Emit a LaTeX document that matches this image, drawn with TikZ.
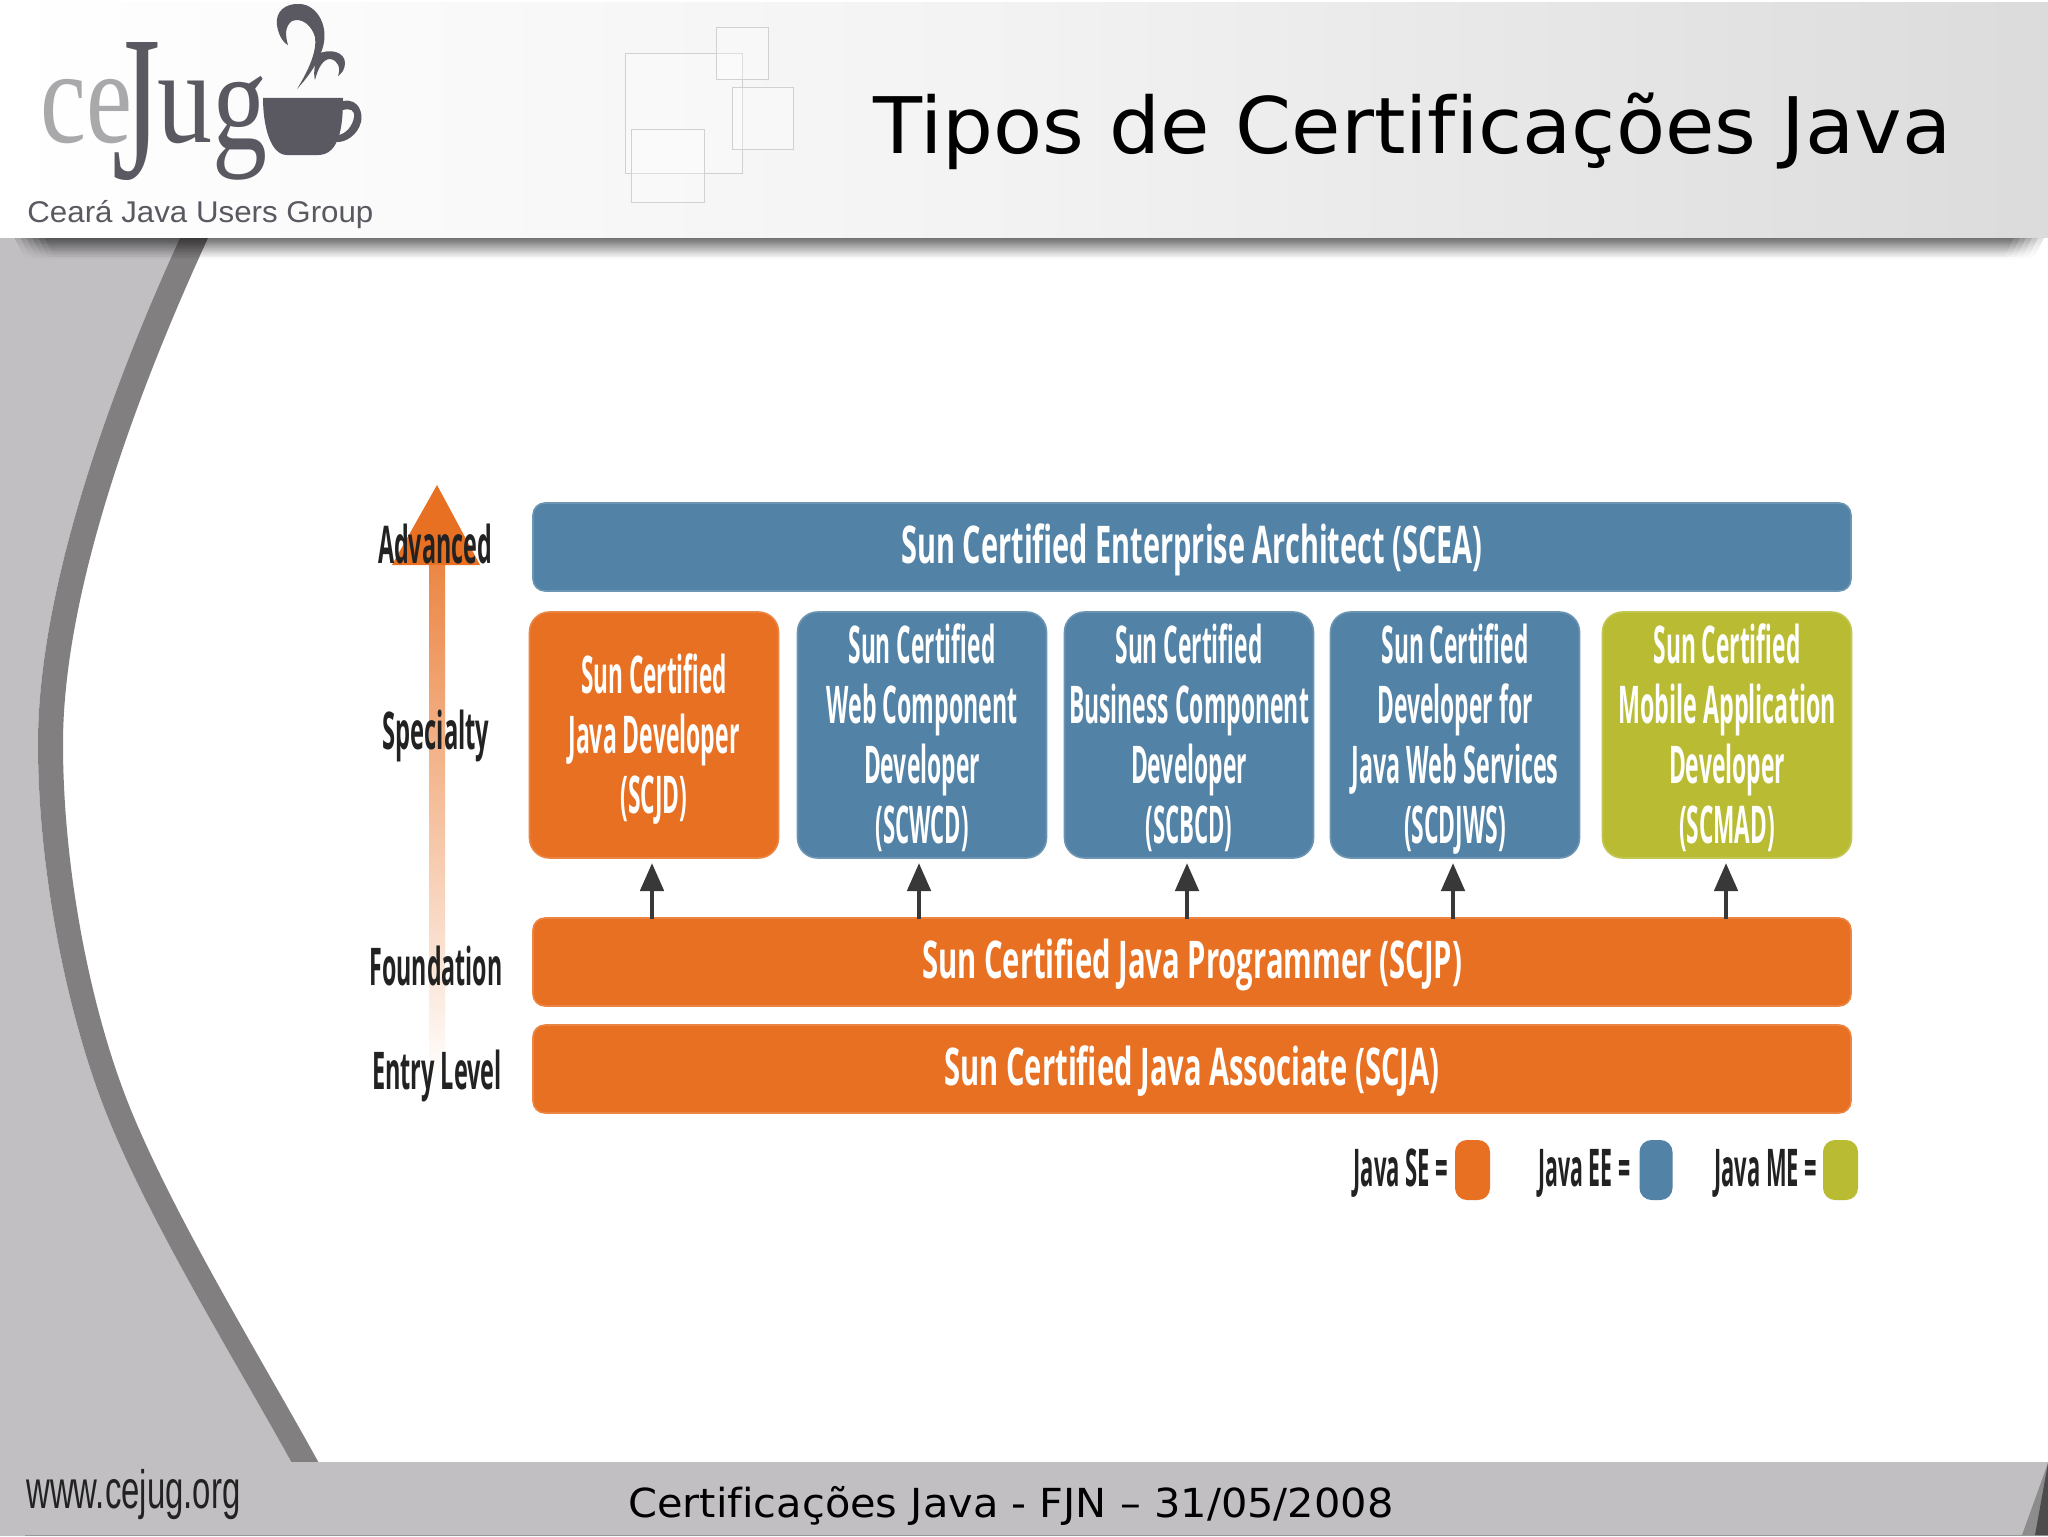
\documentclass[tikz,border=0pt]{standalone}
\usepackage{graphicx}
\usepackage{fontspec}
\usetikzlibrary{arrows.meta}
\setmainfont{Open Sans}
\newfontfamily\djv[Ligatures=NoCommon]{DejaVu Sans}
\newfontfamily\lbs{Liberation Sans}
\newfontfamily\lbr{Liberation Serif}
\newlength\pxu \setlength\pxu{0.5pt}
% width in px, size in pt, text
\newcommand\fitw[3]{\resizebox{#1\pxu}{\height}{\fontsize{#2}{#2}\selectfont #3}}
\newcommand\wl[2]{\smash{\fitw{#1}{26}{\bfseries #2}}}
\newcommand\firstl{\rule{0pt}{18pt}}
\newcommand\onel{\rule[-2pt]{0pt}{20pt}}
\definecolor{orangeB}{HTML}{E87022}
\definecolor{blueB}{HTML}{5282A6}
\definecolor{greenB}{HTML}{B9BC33}
\definecolor{sideG}{HTML}{C1BFC2}
\definecolor{bandG}{HTML}{827F81}
\definecolor{logoD}{HTML}{5A5961}
\definecolor{logoL}{HTML}{A9A9AB}
\definecolor{textD}{HTML}{222222}
\tikzset{
  certbox/.style={inner sep=0pt,outer sep=0pt,align=center,text=white,
    font=\fontsize{26}{30}\selectfont},
  wide/.style={certbox,rounded corners=6pt,minimum width=659pt,minimum height=44pt},
  spec/.style={certbox,rounded corners=10pt,minimum width=124.5pt,minimum height=123pt},
  orangeF/.style={fill=orangeB,draw=orangeB!85!white,line width=.8pt},
  blueF/.style={fill=blueB,draw=blueB!85!white,line width=.8pt},
  greenF/.style={fill=greenB,draw=greenB!85!white,line width=.8pt},
  levlabel/.style={inner sep=0pt,anchor=base,text=textD},
  legendlabel/.style={inner sep=0pt,anchor=base west,text=textD},
  swatch/.style={inner sep=0pt,minimum height=30pt,rounded corners=6pt},
  up/.style={draw=black!78,line width=2.4pt,shorten >=2.5pt,
    -{Triangle[length=14pt,width=11.5pt]}},
  note/.style={inner sep=0pt,anchor=base west},
  paneline/.style={draw=black!18,line width=.5pt,fill=white,fill opacity=.3}
}
\begin{document}
\begin{tikzpicture}[x=0.5pt,y=-0.5pt]
\useasboundingbox (0,0) rectangle (2048,1536);
\fill[white] (0,0) rectangle (2048,1536);
% side panel and swoosh
\fill[sideG] (0,230) -- (183,230) -- (180,238)
  .. controls (110,390) and (38,590) .. (38,744)
  .. controls (38,870) and (67,1015) .. (107,1115)
  .. controls (151,1225) and (238,1365) .. (293,1465)
  -- (0,1465) -- cycle;
\fill[bandG] (180,238)
  .. controls (110,390) and (38,590) .. (38,744)
  .. controls (38,870) and (67,1015) .. (107,1115)
  .. controls (151,1225) and (238,1365) .. (293,1465)
  -- (320,1465)
  .. controls (265,1365) and (179,1225) .. (133,1115)
  .. controls (91,1015) and (63,870) .. (63,744)
  .. controls (63,590) and (138,390) .. (208,238)
  -- cycle;
% header shadow
\foreach \i in {0,...,21} {
  \pgfmathsetmacro\op{0.13*(1-\i/22)^1.3}
  \foreach \j in {0,...,5} {
    \fill[black,opacity=\op] ({14+\j*6+\i*0.5},{237+\i}) rectangle ({2044-\j*6-\i*0.5},{238+\i});
  }
}
% header
\shade[left color=white,right color=black!14,middle color=black!5] (0,3) rectangle (2048,237);
\draw[paneline] (625,54) rectangle (742,173);
\draw[paneline] (716,28) rectangle (768,80);
\draw[paneline] (732,88) rectangle (793,149);
\draw[paneline] (631,129) rectangle (704,202);
% logo
\node[inner sep=0pt,anchor=base west,text=logoL] (logoce) at (40,142) {\lbr\fitw{92}{67}{ce}};
\node[inner sep=0pt,anchor=base west,text=logoD] (logou) at (157,142) {\lbr\fitw{55}{67}{u}};
\node[inner sep=0pt,anchor=south west,text=logoD] (logog) at (212,181) {\lbr\resizebox*{27.5pt}{52pt}{\fontsize{100}{100}\selectfont g}};
\node[inner sep=0pt,anchor=south west,text=logoD] (logoj) at (112,181) {\lbr\resizebox*{24pt}{69pt}{\fontsize{100}{100}\selectfont J}};
\fill[logoD] (263,98) -- (343,98) .. controls (343,125) and (340,155) .. (318,155) -- (287,155) .. controls (270,155) and (263,125) .. (263,98) -- cycle;
\fill[logoD] (343,101) .. controls (360,98) and (363,115) .. (361,122) .. controls (358,135) and (345,143) .. (336,142) -- (337,135) .. controls (346,135) and (353,125) .. (354,117) .. controls (355,110) and (350,108) .. (343,110) -- cycle;
\fill[logoD] (297,89) .. controls (310,75) and (318,62) .. (322,50) .. controls (330,28) and (318,5) .. (300,4) .. controls (285,3) and (275,12) .. (277,25) .. controls (278,33) and (282,42) .. (288,45) .. controls (285,35) and (285,26) .. (292,21) .. controls (302,17) and (312,26) .. (315,37) .. controls (317,50) and (310,68) .. (297,89) -- cycle;
\fill[logoD] (318,54) .. controls (330,48) and (345,52) .. (345,63) .. controls (345,70) and (341,74) .. (338,76) .. controls (341,68) and (338,60) .. (330,59) .. controls (323,59) and (318,68) .. (315,80) .. controls (313,72) and (315,62) .. (318,54) -- cycle;
\node[note,text=logoD] (logotxt) at (27,222) {\lbs\fitw{346}{15}{Ceará Java Users Group}};
% title
\node[note,text=black] (title) at (873,154) {\djv\fitw{1078}{39}{Tipos de Certificações Java}};
% footer
\fill[sideG] (0,1462) rectangle (2048,1536);
\fill[black!40] (25,1535) rectangle (2048,1536);
\fill[black!45] (2048,1463) -- (2022,1535) -- (2048,1535) -- cycle;
\fill[black!70] (2048,1463) -- (2035,1535) -- (2048,1535) -- cycle;
\node[note,text=textD] (www) at (26,1508) {\lbs\fitw{214}{27}{www.cejug.org}};
\node[note,text=black] (foot) at (628,1517) {\djv\fitw{765}{20}{Certificações Java - FJN – 31/05/2008}};
% level arrow
\shade[top color=orangeB!85!white,bottom color=white] (429,560) rectangle (445,1080);
\fill[orangeB] (437,485) -- (480,565) -- (392,565) -- cycle;
% boxes
\node[wide,blueF] (scea) at (1192,547) {\onel\wl{581}{Sun Certified Enterprise Architect (SCEA)}};
\node[spec,orangeF] (scjd) at (654,735) {\firstl\wl{146}{Sun Certified}\\\wl{171}{Java Developer}\\\wl{67}{(SCJD)}};
\node[spec,blueF] (scwcd) at (922,735) {\firstl\wl{147}{Sun Certified}\\\wl{191}{Web Component}\\\wl{116}{Developer}\\\wl{93}{(SCWCD)}};
\node[spec,blueF] (scbcd) at (1189,735) {\firstl\wl{147}{Sun Certified}\\\wl{240}{Business Component}\\\wl{116}{Developer}\\\wl{87}{(SCBCD)}};
\node[spec,blueF] (scdjws) at (1455,735) {\firstl\wl{147}{Sun Certified}\\\wl{155}{Developer for}\\\wl{207}{Java Web Services}\\\wl{102}{(SCDJWS)}};
\node[spec,greenF] (scmad) at (1727,735) {\firstl\wl{147}{Sun Certified}\\\wl{218}{Mobile Application}\\\wl{116}{Developer}\\\wl{96}{(SCMAD)}};
\node[wide,orangeF] (scjp) at (1192,962) {\onel\wl{540}{Sun Certified Java Programmer (SCJP)}};
\node[wide,orangeF] (scja) at (1192,1069) {\onel\wl{495}{Sun Certified Java Associate (SCJA)}};
% connectors
\coordinate (a1) at (652,919);
\coordinate (a2) at (919,919);
\coordinate (a3) at (1187,919);
\coordinate (a4) at (1453,919);
\coordinate (a5) at (1726,919);
\draw[up] (a1) -- (a1 |- scjd.south);
\draw[up] (a2) -- (a2 |- scwcd.south);
\draw[up] (a3) -- (a3 |- scbcd.south);
\draw[up] (a4) -- (a4 |- scdjws.south);
\draw[up] (a5) -- (a5 |- scmad.south);
% level labels
\node[levlabel] (lvadv) at (435,563) {\fitw{114}{26}{\bfseries Advanced}};
\node[levlabel] (lvspe) at (436,749) {\fitw{107}{26}{\bfseries Specialty}};
\node[levlabel] (lvfou) at (436,985) {\fitw{133}{26}{\bfseries Foundation}};
\node[levlabel] (lvent) at (437,1089) {\fitw{130}{26}{\bfseries Entry Level}};
% legend
\node[legendlabel] (lse) at (1353,1186) {\fitw{95}{26}{\bfseries Java SE =}};
\node[swatch,fill=orangeB,minimum width=17.5pt] (sse) at (1472.5,1170) {};
\node[legendlabel] (lee) at (1538,1186) {\fitw{92}{26}{\bfseries Java EE =}};
\node[swatch,fill=blueB,minimum width=16.5pt] (see) at (1656,1170) {};
\node[legendlabel] (lme) at (1714,1186) {\fitw{103}{26}{\bfseries Java ME =}};
\node[swatch,fill=greenB,minimum width=17.5pt] (sme) at (1840.5,1170) {};
\end{tikzpicture}
\end{document}
